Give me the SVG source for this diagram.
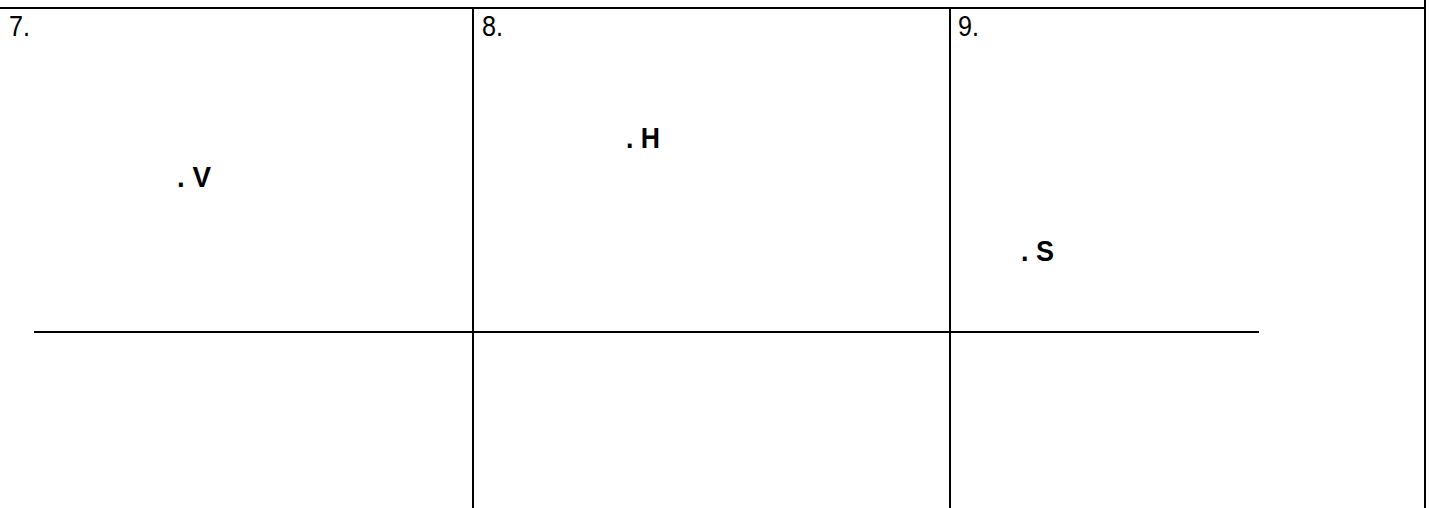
<svg xmlns="http://www.w3.org/2000/svg" width="1429" height="508" viewBox="0 0 1429 508">
<style>
.ln{stroke:#000;stroke-width:2;fill:none}
.num{font-family:"Liberation Sans",Arial,sans-serif;font-size:29px;fill:#000}
.lbl{font-family:"Liberation Sans",Arial,sans-serif;font-size:30px;font-weight:bold;fill:#000}
</style>
<rect width="1429" height="508" fill="#fff"/>
<g id="connectors">
<line class="ln" x1="0" y1="8" x2="1425" y2="8"/>
<line class="ln" x1="1425" y1="0" x2="1425" y2="508"/>
<line class="ln" x1="473" y1="8" x2="473" y2="508"/>
<line class="ln" x1="950" y1="8" x2="950" y2="508"/>
<line class="ln" x1="34" y1="332" x2="1259" y2="332"/>
</g>
<g id="cell7"><text class="num" x="9" y="36" textLength="21" lengthAdjust="spacingAndGlyphs">7.</text><text class="lbl" x="177" y="187" textLength="34" lengthAdjust="spacingAndGlyphs">. V</text></g>
<g id="cell8"><text class="num" x="482" y="36" textLength="21" lengthAdjust="spacingAndGlyphs">8.</text><text class="lbl" x="626" y="148" textLength="34" lengthAdjust="spacingAndGlyphs">. H</text></g>
<g id="cell9"><text class="num" x="958" y="36" textLength="21" lengthAdjust="spacingAndGlyphs">9.</text><text class="lbl" x="1021" y="261" textLength="33" lengthAdjust="spacingAndGlyphs">. S</text></g>
</svg>
